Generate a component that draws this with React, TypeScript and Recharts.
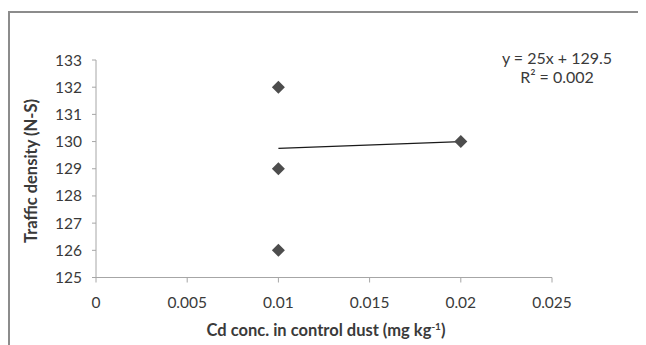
import React from 'react';
import { ScatterChart, Scatter, XAxis, YAxis, Label } from 'recharts';

const xValues = [0.01, 0.01, 0.01, 0.02];
const yValues = [132, 129, 126, 130];
const trendX = [0.01, 0.02];
const trendY = [129.75, 130];
const xTicks = [0, 0.005, 0.01, 0.015, 0.02, 0.025];
const yTicks = [125, 126, 127, 128, 129, 130, 131, 132, 133];
const equationLines = ['y = 25x + 129.5', 'R² = 0.002'];

const points = xValues.map((x, i) => ({ x, y: yValues[i] }));
const trend = trendX.map((x, i) => ({ x, y: trendY[i] }));

const FONT = 'Lato, "Open Sans", sans-serif';
const TEXT = '#3a3a3a';
const AXIS = '#a6a6a6';

const Diamond = (props: any) => {
  const { cx, cy } = props;
  if (cx == null || cy == null) return null;
  const r = 6.5;
  return (
    <polygon
      points={`${cx},${cy - r} ${cx + r},${cy} ${cx},${cy + r} ${cx - r},${cy}`}
      fill="#4d4d4d"
    />
  );
};

const NoShape = () => null;

export default function App() {
  return (
    <div style={{ position: 'relative', width: 638, height: 337 }}>
      <style>{'html,body{overflow:hidden}'}</style>
      <div
        style={{
          position: 'absolute',
          left: 0,
          top: 3,
          width: 700,
          height: 400,
          borderLeft: '2px solid #8c8c8c',
          borderTop: '2px solid #8c8c8c',
        }}
      />
      <div style={{ position: 'absolute', left: 0, top: 0 }}>
        <ScatterChart
          width={638}
          height={337}
          margin={{ top: 52, right: 94, bottom: 0, left: 0 }}
        >
          <XAxis
            type="number"
            dataKey="x"
            domain={[0, 0.025]}
            ticks={xTicks}
            tickFormatter={(v: number) => String(v)}
            height={67.5}
            tickSize={5}
            tickMargin={14}
            axisLine={{ stroke: AXIS }}
            tickLine={{ stroke: AXIS }}
            tick={{ fill: TEXT, fontFamily: FONT, fontSize: 15.5 }}
            allowDataOverflow
          >
            <Label
              content={() => (
                <text
                  x={318}
                  y={328}
                  textAnchor="middle"
                  fontFamily={FONT}
                  fontSize={16.5}
                  fontWeight="bold"
                  fill={TEXT}
                >
                  Cd conc. in control dust (mg kg
                  <tspan dy={-6} fontSize={10}>-1</tspan>
                  <tspan dy={6}>)</tspan>
                </text>
              )}
            />
          </XAxis>
          <YAxis
            type="number"
            dataKey="y"
            domain={[125, 133]}
            ticks={yTicks}
            width={88}
            tickSize={4}
            tickMargin={10}
            axisLine={{ stroke: AXIS }}
            tickLine={{ stroke: AXIS }}
            tick={{ fill: TEXT, fontFamily: FONT, fontSize: 15.5 }}
            allowDataOverflow
          >
            <Label
              content={() => (
                <text
                  x={0}
                  y={0}
                  transform="translate(29 163) rotate(-90)"
                  textAnchor="middle"
                  fontFamily={FONT}
                  fontSize={16.5}
                  fontWeight="bold"
                  fill={TEXT}
                >
                  Traffic density (N-S)
                </text>
              )}
            />
          </YAxis>
          <Scatter
            data={trend}
            line={{ stroke: '#1a1a1a', strokeWidth: 1.2 }}
            shape={NoShape}
            isAnimationActive={false}
          />
          <Scatter data={points} shape={Diamond} isAnimationActive={false} />
        </ScatterChart>
      </div>
      <svg
        width={638}
        height={337}
        style={{ position: 'absolute', left: 0, top: 0, pointerEvents: 'none' }}
      >
        {equationLines.map((line, i) => (
          <text
            key={line}
            x={549}
            y={55.5 + i * 19}
            textAnchor="middle"
            fontFamily={FONT}
            fontSize={16}
            fill={TEXT}
          >
            {line}
          </text>
        ))}
      </svg>
    </div>
  );
}
